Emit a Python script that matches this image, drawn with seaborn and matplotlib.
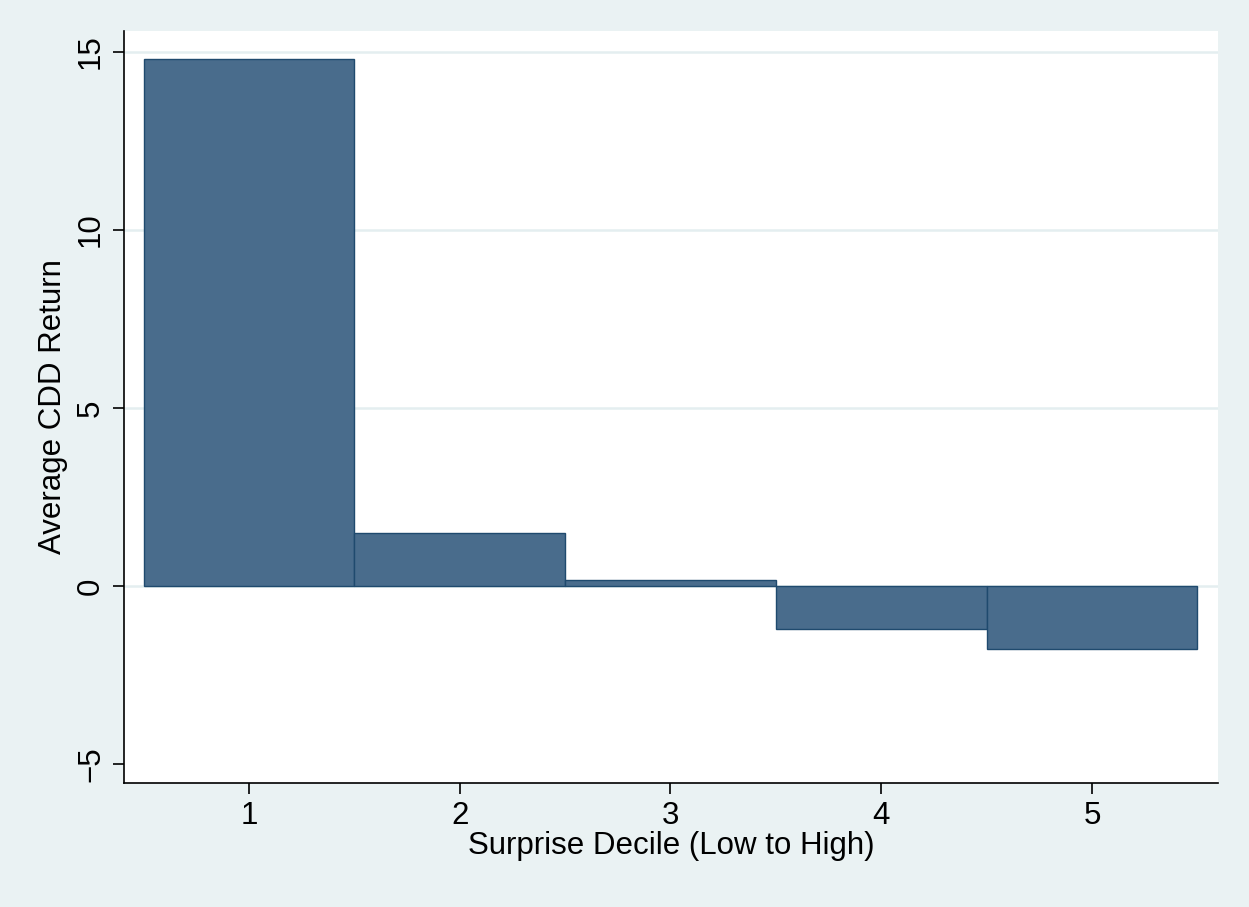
import numpy as np
import pandas as pd
import matplotlib
matplotlib.use("Agg")
import matplotlib.pyplot as plt
import seaborn as sns

deciles = ["1", "2", "3", "4", "5"]
avg_return = [14.80, 1.49, 0.18, -1.21, -1.77]
yticks = [-5, 0, 5, 10, 15]
grid_at = [0, 5, 10, 15]

bg = "#EAF2F3"
bar_fill = "#496C8C"
bar_edge = "#1F4A6E"

sns.set_style("white")
plt.rcParams["font.family"] = ["Liberation Sans", "DejaVu Sans"]
plt.rcParams["text.color"] = "black"
plt.rcParams["axes.labelcolor"] = "black"
plt.rcParams["xtick.color"] = "black"
plt.rcParams["ytick.color"] = "black"

df = pd.DataFrame({"decile": deciles, "ret": avg_return})

fig = plt.figure(figsize=(12.49, 9.07), dpi=100, facecolor=bg)
ax = fig.add_axes([0.0993, 0.1367, 0.8759, 0.8291])
ax.set_facecolor("white")

for g in grid_at:
    ax.axhline(g, color="#E4EEF0", lw=1.8, zorder=0)

sns.barplot(data=df, x="decile", y="ret", width=1.0, color=bar_fill,
            edgecolor=bar_edge, linewidth=1.0, saturation=1, ax=ax, zorder=2)

ax.set_xlim(-0.593, 4.598)
ax.set_ylim(-5.53, 15.59)
ax.set_yticks(yticks)
ax.set_yticklabels(["\u22125", "0", "5", "10", "15"], rotation=90, va="center")

for s in ["top", "right"]:
    ax.spines[s].set_visible(False)
for s in ["left", "bottom"]:
    ax.spines[s].set_color("black")
    ax.spines[s].set_linewidth(1.2)

ax.tick_params(axis="both", direction="out", length=8, width=1.2, color="black",
               labelsize=22.5, pad=5, bottom=True, left=True)
ax.set_xlabel("Surprise Decile (Low to High)", fontsize=22.5, labelpad=0)
ax.set_ylabel("Average CDD Return", fontsize=22.5, labelpad=6)

fig.savefig("out.png", dpi=100, facecolor=bg)
